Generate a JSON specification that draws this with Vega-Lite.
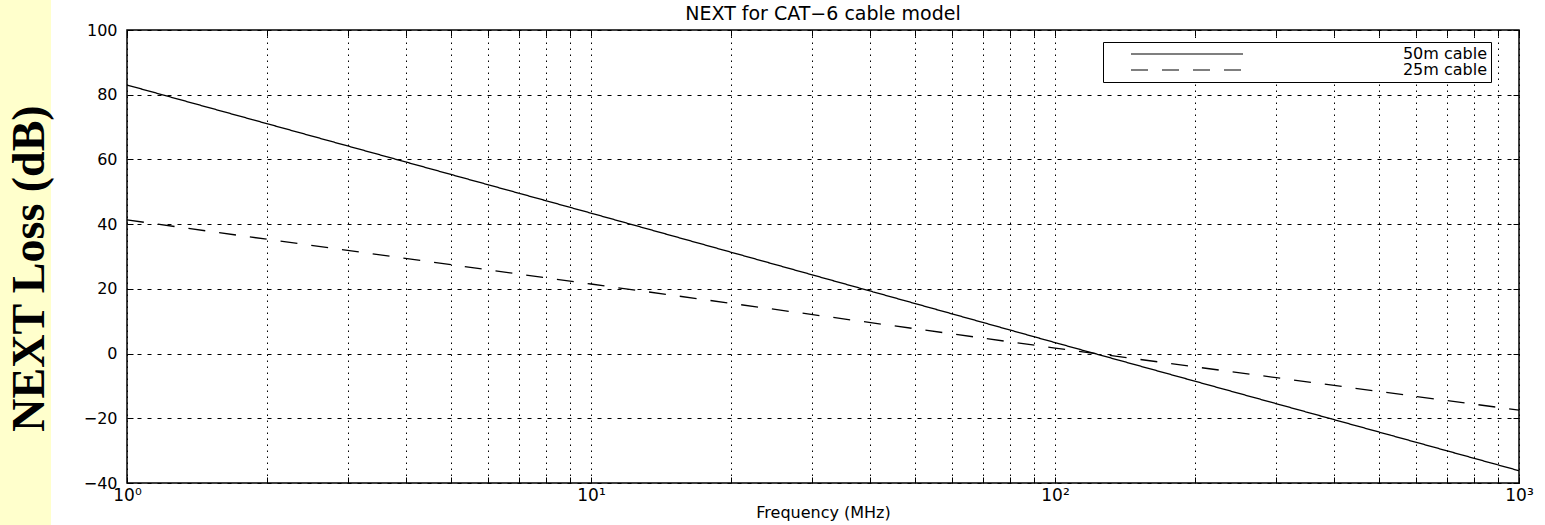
{
  "$schema": "https://vega.github.io/schema/vega-lite/v6.json",
  "padding": 0,
  "spacing": 0,
  "bounds": "full",
  "background": "white",
  "config": {
    "font": "DejaVu Sans"
  },
  "hconcat": [
    {
      "width": 51,
      "height": 525,
      "view": {"fill": "#FFFFCC", "stroke": null},
      "data": {"values": [{"label": "NEXT Loss (dB)"}]},
      "mark": {"type": "text", "angle": 270, "font": "Liberation Serif", "fontWeight": "bold", "fontSize": 46, "baseline": "middle", "align": "center", "dx": -6, "dy": 4, "color": "black"},
      "encoding": {"text": {"field": "label", "type": "nominal"}}
    },
    {
      "spacing": 0,
      "bounds": "flush",
      "vconcat": [
        {
          "width": 1392,
          "height": 30,
          "view": {"stroke": null, "fill": null},
          "data": {"values": [{"title": "NEXT for CAT−6 cable model"}]},
          "mark": {"type": "text", "fontSize": 19, "font": "DejaVu Sans", "color": "black", "baseline": "middle", "align": "center", "dy": -1},
          "encoding": {"text": {"field": "title", "type": "nominal"}}
        },
        {
          "width": 1392,
          "height": 453,
          "view": {"stroke": "black", "strokeWidth": 1.5, "fill": "white"},
          "data": {"values": [
            {"freq": 1, "loss": 83, "cable": "50m cable"},
            {"freq": 10, "loss": 43.4, "cable": "50m cable"},
            {"freq": 100, "loss": 3.4, "cable": "50m cable"},
            {"freq": 1000, "loss": -36.2, "cable": "50m cable"},
            {"freq": 1, "loss": 41.3, "cable": "25m cable"},
            {"freq": 10, "loss": 21.5, "cable": "25m cable"},
            {"freq": 100, "loss": 1.7, "cable": "25m cable"},
            {"freq": 1000, "loss": -17.5, "cable": "25m cable"}
          ]},
          "resolve": {"axis": {"x": "independent", "y": "independent"}},
          "layer": [
            {
              "mark": {"type": "line", "color": "black", "strokeWidth": 1.3},
              "encoding": {
                "x": {
                  "field": "freq", "type": "quantitative",
                  "scale": {"type": "log", "domain": [1, 1000], "nice": false},
                  "axis": {
                    "values": [1,2,3,4,5,6,7,8,9,10,20,30,40,50,60,70,80,90,100,200,300,400,500,600,700,800,900,1000],
                    "labelExpr": "datum.value == 1 ? '10⁰' : datum.value == 10 ? '10¹' : datum.value == 100 ? '10²' : datum.value == 1000 ? '10³' : ''",
                    "title": "Frequency (MHz)",
                    "grid": true, "gridColor": "black", "gridDash": [1.5, 4.5], "gridOpacity": 1, "gridWidth": 1,
                    "ticks": true, "tickSize": -6, "tickColor": "black", "tickWidth": 1,
                    "domain": false,
                    "labelFontSize": 17, "labelColor": "black", "labelPadding": 10, "labelFlush": false, "labelOverlap": false, "labelBound": false,
                    "titleFontSize": 16, "titleFontWeight": "normal", "titleColor": "black", "titlePadding": 1
                  }
                },
                "y": {
                  "field": "loss", "type": "quantitative",
                  "scale": {"domain": [-40, 100], "nice": false, "zero": false},
                  "axis": {
                    "values": [-40, -20, 0, 20, 40, 60, 80, 100],
                    "title": null,
                    "grid": true, "gridColor": "black", "gridDash": [4, 6], "gridOpacity": 1, "gridWidth": 1,
                    "ticks": true, "tickSize": -6, "tickColor": "black", "tickWidth": 1,
                    "domain": false,
                    "labelFontSize": 16, "labelColor": "black", "labelPadding": 16, "minExtent": 73
                  }
                },
                "strokeDash": {
                  "field": "cable", "type": "nominal",
                  "scale": {"domain": ["50m cable", "25m cable"], "range": [[1, 0], [17, 14]]},
                  "legend": {
                    "orient": "none", "legendX": 1103, "legendY": 42, "title": null,
                    "symbolType": "M-8,0H8", "symbolSize": 196, "symbolStrokeWidth": 1.2, "symbolStrokeColor": "black", "symbolFillColor": "transparent",
                    "strokeColor": "black", "fillColor": "white", "padding": 4,
                    "symbolOffset": 72, "labelOffset": 292, "labelAlign": "right", "labelFontSize": 16, "labelColor": "black", "rowPadding": 0, "labelLimit": 300
                  }
                }
              }
            },
            {
              "mark": {"type": "point", "opacity": 0},
              "encoding": {
                "x": {
                  "field": "freq", "type": "quantitative",
                  "axis": {
                    "orient": "top",
                    "values": [1,2,3,4,5,6,7,8,9,10,20,30,40,50,60,70,80,90,100,200,300,400,500,600,700,800,900,1000],
                    "labels": false, "title": null, "grid": false, "domain": false,
                    "ticks": true, "tickSize": -6, "tickColor": "black", "tickWidth": 1,
                    "minExtent": 0, "maxExtent": 0
                  }
                },
                "y": {
                  "field": "loss", "type": "quantitative",
                  "axis": {
                    "orient": "right",
                    "values": [-40, -20, 0, 20, 40, 60, 80, 100],
                    "labels": false, "title": null, "grid": false, "domain": false,
                    "ticks": true, "tickSize": -6, "tickColor": "black", "tickWidth": 1,
                    "minExtent": 0, "maxExtent": 0
                  }
                }
              }
            }
          ]
        }
      ]
    }
  ]
}
